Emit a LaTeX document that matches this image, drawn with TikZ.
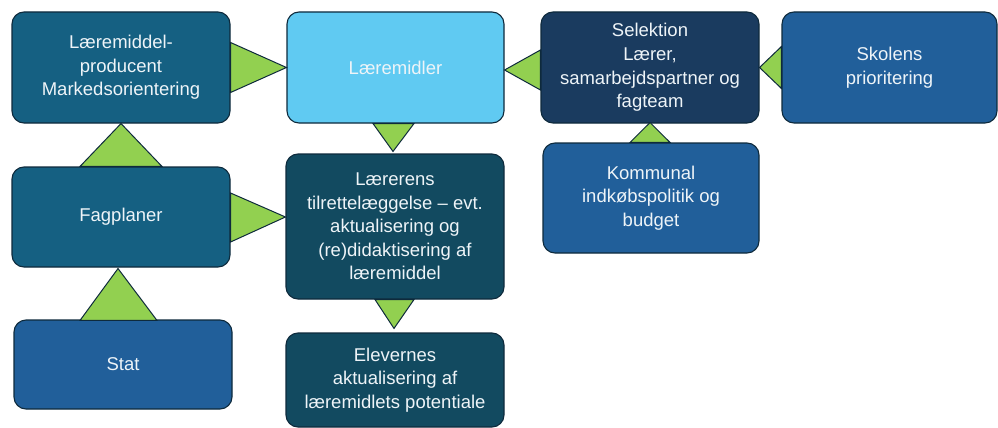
\documentclass[tikz,border=0pt]{standalone}
\usepackage{fontspec}
\setmainfont{Liberation Sans}
\usetikzlibrary{calc}
\definecolor{tealbox}{HTML}{156082}
\definecolor{lightbox}{HTML}{60CAF2}
\definecolor{navybox}{HTML}{1A3B5F}
\definecolor{bluebox}{HTML}{215F9A}
\definecolor{deepbox}{HTML}{124A60}
\definecolor{arrowgreen}{HTML}{92D050}
\definecolor{edge}{HTML}{0E2A3C}
\definecolor{boxtext}{HTML}{EEF4F8}
\begin{document}
\begin{tikzpicture}[x=1pt,y=-1pt,
  box/.style={draw=edge, line width=1.1pt, rounded corners=12pt, inner sep=0pt,
    align=center, text=boxtext, font=\fontsize{18.5}{23.6}\selectfont},
  tri/.style={fill=arrowgreen, draw=edge, line width=1pt, line join=miter}]
\useasboundingbox (0,0) rectangle (998,428);

% boxes
\node[box, fill=tealbox, minimum width=218pt, minimum height=111pt] (prod) at (121,67.5)
  {Læremiddel-\\producent\\Markedsorientering};
\node[box, fill=lightbox, minimum width=217pt, minimum height=111pt] (midl) at (395.5,67.5)
  {Læremidler};
\node[box, fill=navybox, minimum width=218pt, minimum height=111pt] (sel) at (650,67.5)
  {Selektion\\Lærer,\\samarbejdspartner og\\fagteam};
\node[box, fill=bluebox, minimum width=215pt, minimum height=111pt] (skol) at (889.5,67.5)
  {Skolens\\prioritering};
\node[box, fill=tealbox, minimum width=218pt, minimum height=100pt] (fag) at (121,217)
  {Fagplaner};
\node[box, fill=bluebox, minimum width=218pt, minimum height=89pt] (stat) at (123,364.5)
  {Stat};
\node[box, fill=deepbox, minimum width=218pt, minimum height=145pt] (laer) at (395,226.5)
  {Lærerens\\tilrettelæggelse – evt.\\aktualisering og\\(re)didaktisering af\\læremiddel};
\node[box, fill=deepbox, minimum width=218pt, minimum height=94pt] (elev) at (395,380)
  {Elevernes\\aktualisering af\\læremidlets potentiale};
\node[box, fill=bluebox, minimum width=216pt, minimum height=110pt] (komm) at (651,198)
  {Kommunal\\indkøbspolitik og\\budget};

% green triangle connectors
\draw[tri] ($(prod.east)+(0,-25)$) -- (midl.west) -- ($(prod.east)+(0,25)$) -- cycle;
\draw[tri] ($(skol.west)+(0,-21)$) -- (sel.east) -- ($(skol.west)+(0,21)$) -- cycle;
\draw[tri] ($(sel.west)+(0,-17.5)$) -- ($(midl.east)+(0,2.5)$) -- ($(sel.west)+(0,22.5)$) -- cycle;
\draw[tri] ($(midl.south)+(-22.5,0)$) -- ($(laer.north)+(-2,-2)$) -- ($(midl.south)+(18.5,0)$) -- cycle;
\draw[tri] ($(fag.north)+(-41,0)$) -- (prod.south) -- ($(fag.north)+(41,0)$) -- cycle;
\draw[tri] ($(stat.north)+(-43,1)$) -- ($(fag.south)+(-3,1)$) -- ($(stat.north)+(34,1)$) -- cycle;
\draw[tri] ($(fag.east)+(0,-24)$) -- (laer.west |- fag.east) -- ($(fag.east)+(0,25)$) -- cycle;
\draw[tri] ($(laer.south)+(-20,0)$) -- ($(elev.north)+(-1,-4)$) -- ($(laer.south)+(19,0)$) -- cycle;
\draw[tri] ($(komm.north)+(-21,0)$) -- ($(sel.south)+(0,-1)$) -- ($(komm.north)+(19,0)$) -- cycle;
\end{tikzpicture}
\end{document}
